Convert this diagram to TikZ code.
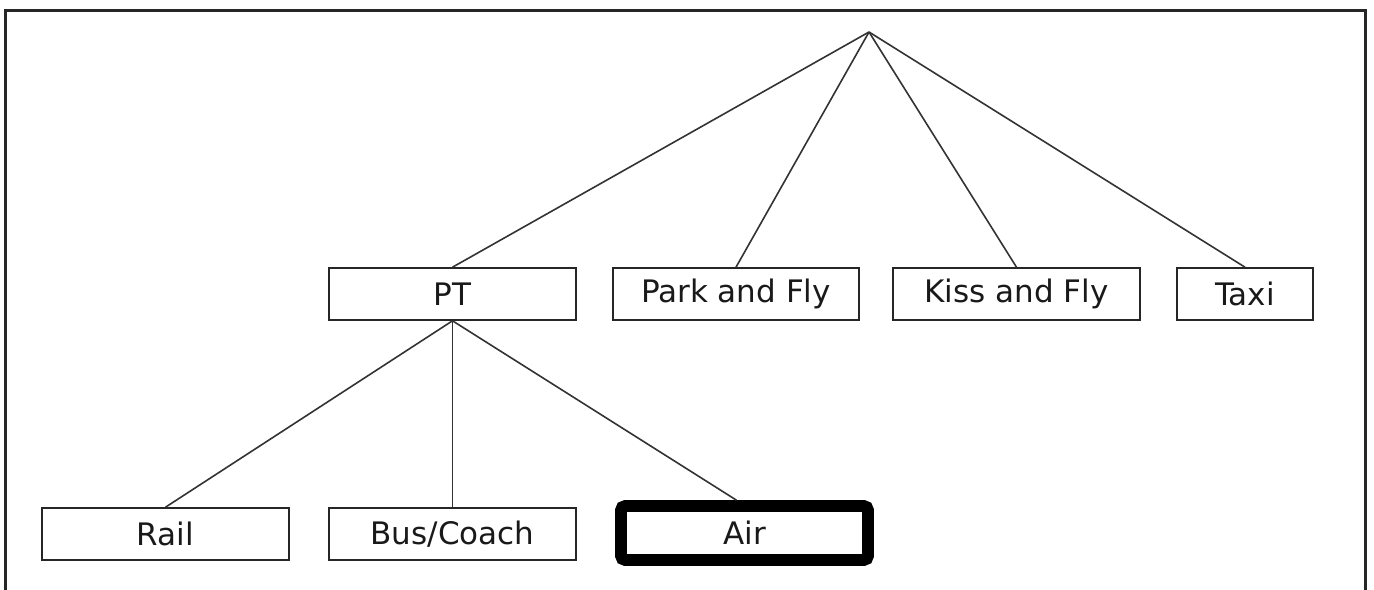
\documentclass[tikz,border=0pt]{standalone}
\usepackage{fontspec}
\setmainfont{DejaVu Sans}
\begin{document}
\begin{tikzpicture}[x=0.5pt,y=-0.5pt,
  box/.style={draw=black!85, line width=0.8pt, rectangle, minimum height=26pt, inner sep=0pt, font=\fontsize{15.5}{18}\selectfont, text=black!90},
  hibox/.style={draw=black, line width=5.8pt, rounded corners=2pt, rectangle, minimum height=27pt, inner sep=0pt, font=\fontsize{15.5}{18}\selectfont, text=black!90},
  link/.style={draw=black!80, line width=0.8pt},
  frame/.style={draw=black!85, line width=1.5pt}]
\useasboundingbox (0,0) rectangle (1374,589);
\draw[frame] (5,590) -- (5,10) -- (1365,10) -- (1365,590);
\coordinate (apex) at (869,32);
\node[box, minimum width=123.5pt] (pt) at (452.5,294) {PT};
\node[box, minimum width=123pt] (park) at (736,294) {Park and Fly};
\node[box, minimum width=123.5pt] (kiss) at (1016.5,294) {Kiss and Fly};
\node[box, minimum width=68pt] (taxi) at (1245,294) {Taxi};
\node[box, minimum width=123.5pt] (rail) at (165.5,534) {Rail};
\node[box, minimum width=123.5pt] (bus) at (452.5,534) {Bus/Coach};
\node[hibox, minimum width=123.5pt] (air) at (744.5,533) {Air};
\draw[link] (apex) -- (pt.north);
\draw[link] (apex) -- (park.north);
\draw[link] (apex) -- (kiss.north);
\draw[link] (apex) -- (taxi.north);
\draw[link] (pt.south) -- (rail.north);
\draw[link] (pt.south) -- (bus.north);
\draw[link] (pt.south) -- ([xshift=-4pt]air.north);
\end{tikzpicture}
\end{document}
